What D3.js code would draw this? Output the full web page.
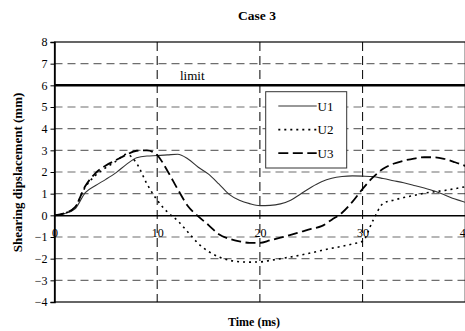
<!DOCTYPE html>
<html>
<head>
<meta charset="utf-8">
<script src="https://cdn.jsdelivr.net/npm/d3@7"></script>
<style>
  html, body { margin: 0; padding: 0; background: #fff; }
  svg { display: block; }
  svg text { font-family: "Liberation Serif", "DejaVu Serif", serif !important; fill: #000; }
</style>
</head>
<body>
<script>
// Shearing displacement time histories, Case 3
const time = d3.range(0, 41); // ms
const u1 = [0, 0.08, 0.3, 1.05, 1.38, 1.66, 1.97, 2.35, 2.66, 2.74, 2.76, 2.79, 2.82, 2.6, 2.22, 1.9, 1.45, 0.97, 0.7, 0.54, 0.45,
            0.46, 0.53, 0.7, 1.0, 1.3, 1.55, 1.71, 1.79, 1.82, 1.81, 1.79, 1.7, 1.6, 1.5, 1.38, 1.26, 1.12, 0.94, 0.75, 0.6];
const u2 = [0, 0.1, 0.38, 1.3, 1.85, 2.2, 2.5, 2.82, 2.4, 1.45, 0.7, 0.15, -0.25, -0.78, -1.3, -1.67, -1.92, -2.07, -2.14, -2.16, -2.15,
            -2.08, -2.0, -1.92, -1.83, -1.73, -1.62, -1.52, -1.43, -1.32, -1.2, -0.25, 0.55, 0.7, 0.82, 0.92, 1.02, 1.09, 1.15, 1.23, 1.32];
const u3 = [0, 0.1, 0.38, 1.35, 1.95, 2.3, 2.55, 2.8, 2.98, 3.0, 2.78, 2.05, 1.2, 0.42, -0.05, -0.45, -0.87, -1.08, -1.2, -1.27, -1.27,
            -1.15, -1.03, -0.9, -0.76, -0.62, -0.5, -0.2, 0.12, 0.62, 1.22, 1.75, 2.15, 2.38, 2.52, 2.62, 2.68, 2.68, 2.6, 2.45, 2.28];
const seriesNames = ["U1", "U2", "U3"];
const xTicks = [0, 10, 20, 30, 40];
const yTicks = [-4, -3, -2, -1, 0, 1, 2, 3, 4, 5, 6, 7, 8];
const limitValue = 6;

const W = 465, H = 331;
const svg = d3.select("body").append("svg").attr("width", W).attr("height", H);

const x = d3.scaleLinear().domain([0, 40]).range([54.5, 465.3]);
const y = d3.scaleLinear().domain([-4, 8]).range([302, 42]);

const plot = svg.append("g");

// horizontal grid
plot.selectAll(".hgrid")
  .data(yTicks.filter(v => v !== 0 && v !== limitValue && v !== 8 && v !== -4))
  .join("line")
  .attr("x1", x(0)).attr("x2", x(40))
  .attr("y1", d => y(d)).attr("y2", d => y(d))
  .attr("stroke", "#6e6e6e").attr("stroke-width", 1.2)
  .attr("stroke-dasharray", "8,5");

// vertical grid
plot.selectAll(".vgrid")
  .data(xTicks.filter(v => v > 0 && v < 40))
  .join("line")
  .attr("x1", d => x(d)).attr("x2", d => x(d))
  .attr("y1", y(8)).attr("y2", y(-4))
  .attr("stroke", "#000").attr("stroke-width", 1)
  .attr("stroke-dasharray", "9,5");

// plot border
plot.append("rect")
  .attr("x", x(0)).attr("y", y(8))
  .attr("width", x(40) - x(0)).attr("height", y(-4) - y(8))
  .attr("fill", "none").attr("stroke", "#000").attr("stroke-width", 1.2);

// limit line
plot.append("line")
  .attr("x1", x(0)).attr("x2", x(40))
  .attr("y1", y(limitValue)).attr("y2", y(limitValue))
  .attr("stroke", "#000").attr("stroke-width", 2.5);
svg.append("text").attr("x", 180).attr("y", y(limitValue) - 5)
  .attr("font-size", 13).text("limit");

// series
const styles = {
  U1: { dash: null, width: 1.1, color: "#333" },
  U2: { dash: "2,4", width: 1.6, color: "#000" },
  U3: { dash: "10,4.5", width: 1.8, color: "#000" }
};
const values = { U1: u1, U2: u2, U3: u3 };
const line = d3.line().x(d => x(d[0])).y(d => y(d[1])).curve(d3.curveMonotoneX);
seriesNames.forEach(name => {
  plot.append("path")
    .datum(time.map((t, i) => [t, values[name][i]]))
    .attr("d", line)
    .attr("fill", "none")
    .attr("stroke", styles[name].color)
    .attr("stroke-width", styles[name].width)
    .attr("stroke-dasharray", styles[name].dash);
});

// y axis
const yAxis = svg.append("g").attr("transform", `translate(${x(0)},0)`)
  .call(d3.axisLeft(y).tickValues(yTicks).tickSize(4).tickPadding(3).tickFormat(d3.format("d")));
yAxis.select(".domain").attr("stroke-width", 1.5);
yAxis.selectAll(".tick line").attr("stroke-width", 1);
yAxis.selectAll("text").attr("font-size", 12);

// x axis along zero
const xAxis = svg.append("g").attr("transform", `translate(0,${y(0)})`)
  .call(d3.axisBottom(x).tickValues(xTicks).tickSize(0).tickPadding(13));
xAxis.select(".domain").attr("stroke-width", 1.5);
xAxis.selectAll("text").attr("font-size", 12);

// legend
const lg = svg.append("g");
lg.append("rect").attr("x", 265.7).attr("y", 91.7).attr("width", 81).attr("height", 76.3)
  .attr("fill", "#fff").attr("stroke", "#333").attr("stroke-width", 1);
seriesNames.forEach((name, i) => {
  const yy = 106 + i * 23.6;
  lg.append("line").attr("x1", 278.3).attr("x2", 316.7).attr("y1", yy).attr("y2", yy)
    .attr("stroke", styles[name].color).attr("stroke-width", styles[name].width)
    .attr("stroke-dasharray", styles[name].dash);
  lg.append("text").attr("x", 317.5).attr("y", yy + 4.5).attr("font-size", 13).text(name);
});

// titles
svg.append("text").attr("x", 257).attr("y", 20).attr("text-anchor", "middle")
  .attr("font-size", 13.5).attr("font-weight", "bold").text("Case 3");
svg.append("text").attr("x", 254).attr("y", 326).attr("text-anchor", "middle")
  .attr("font-size", 12).attr("font-weight", "bold").text("Time (ms)");
svg.append("text").attr("transform", "translate(22,172.5) rotate(-90)").attr("text-anchor", "middle")
  .attr("font-size", 13).attr("font-weight", "bold").text("Shearing dipslacement (mm)");
</script>
</body>
</html>
